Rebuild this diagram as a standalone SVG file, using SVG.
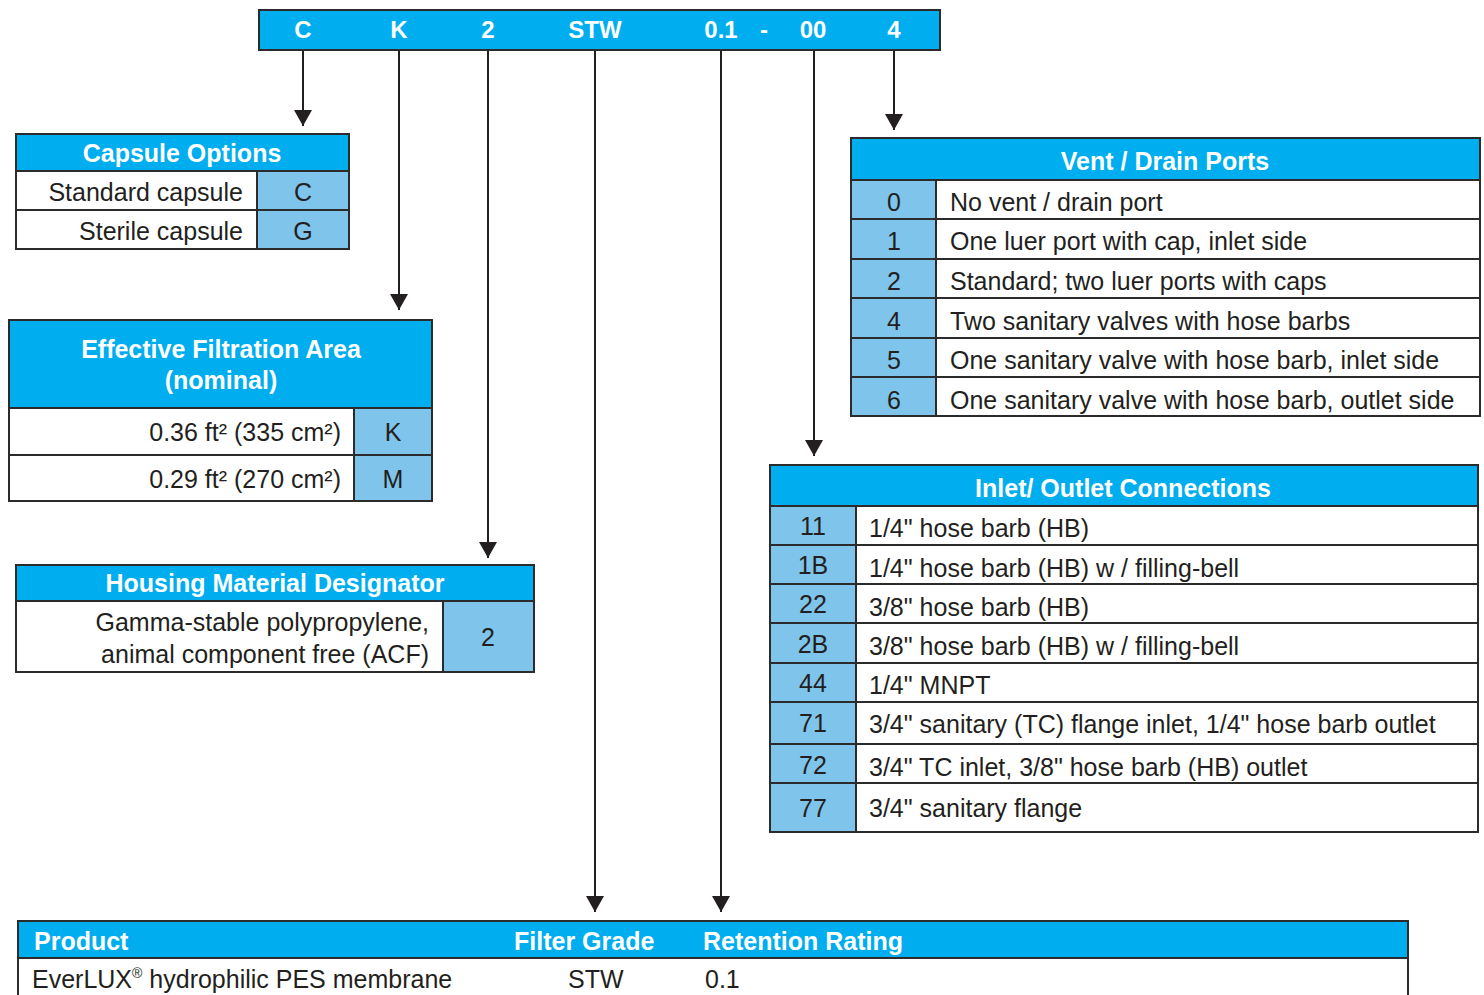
<svg xmlns="http://www.w3.org/2000/svg" width="1484" height="995" viewBox="0 0 1484 995">
<defs>
<style>
.hd{fill:#00AEEF}
.lt{fill:#7EC4EB}
.wh{fill:#ffffff}
.bd{fill:none;stroke:#2b2b2b;stroke-width:2}
.ln{stroke:#2b2b2b;stroke-width:2}
.ht{font-family:"Liberation Sans",Arial,sans-serif;font-weight:bold;font-size:25px;fill:#ffffff}
.bt{font-family:"Liberation Sans",Arial,sans-serif;font-size:25px;fill:#231f20}
.tb{font-family:"Liberation Sans",Arial,sans-serif;font-weight:bold;font-size:24px;fill:#ffffff;text-anchor:middle}
.c{text-anchor:middle}
.r{text-anchor:end}
.con{stroke:#231f20;stroke-width:2;fill:none;marker-end:url(#ah)}
</style>
<marker id="ah" markerUnits="userSpaceOnUse" markerWidth="16" markerHeight="18" refX="16" refY="9" orient="auto" viewBox="0 0 16 18">
<path d="M0,0 L16,9 L0,18 Z" fill="#231f20"/>
</marker>
</defs>
<rect x="0" y="0" width="1484" height="995" fill="#ffffff"/>

<g id="code-bar">
<rect x="259" y="10" width="681" height="40" class="hd"/>
<rect x="259" y="10" width="681" height="40" class="bd"/>
<text x="303" y="38" class="tb">C</text>
<text x="399" y="38" class="tb">K</text>
<text x="488" y="38" class="tb">2</text>
<text x="595" y="38" class="tb">STW</text>
<text x="721" y="38" class="tb">0.1</text>
<text x="764" y="38" class="tb">-</text>
<text x="813" y="38" class="tb">00</text>
<text x="894" y="38" class="tb">4</text>
</g>

<g id="connectors">
<line x1="303" y1="51" x2="303" y2="126" class="con"/>
<line x1="399" y1="51" x2="399" y2="310" class="con"/>
<line x1="488" y1="51" x2="488" y2="558" class="con"/>
<line x1="595" y1="51" x2="595" y2="912" class="con"/>
<line x1="721" y1="51" x2="721" y2="912" class="con"/>
<line x1="814" y1="51" x2="814" y2="456" class="con"/>
<line x1="894" y1="51" x2="894" y2="130" class="con"/>
</g>

<g id="capsule-options">
<rect x="16" y="134" width="333" height="37" class="hd"/>
<rect x="16" y="171" width="241" height="78" class="wh"/>
<rect x="257" y="171" width="92" height="78" class="lt"/>
<rect x="16" y="134" width="333" height="115" class="bd"/>
<line x1="16" y1="171" x2="349" y2="171" class="ln"/>
<line x1="16" y1="210" x2="349" y2="210" class="ln"/>
<line x1="257" y1="171" x2="257" y2="249" class="ln"/>
<text x="182" y="162" class="ht c">Capsule Options</text>
<text x="243" y="201" class="bt r">Standard capsule</text>
<text x="303" y="201" class="bt c">C</text>
<text x="243" y="240" class="bt r">Sterile capsule</text>
<text x="303" y="240" class="bt c">G</text>
</g>

<g id="filtration-area">
<rect x="9" y="320" width="423" height="88" class="hd"/>
<rect x="9" y="408" width="345" height="93" class="wh"/>
<rect x="354" y="408" width="78" height="93" class="lt"/>
<rect x="9" y="320" width="423" height="181" class="bd"/>
<line x1="9" y1="408" x2="432" y2="408" class="ln"/>
<line x1="9" y1="455" x2="432" y2="455" class="ln"/>
<line x1="354" y1="408" x2="354" y2="501" class="ln"/>
<text x="221" y="358" class="ht c">Effective Filtration Area</text>
<text x="221" y="389" class="ht c">(nominal)</text>
<text x="341" y="441" class="bt r">0.36 ft² (335 cm²)</text>
<text x="393" y="441" class="bt c">K</text>
<text x="341" y="488" class="bt r">0.29 ft² (270 cm²)</text>
<text x="393" y="488" class="bt c">M</text>
</g>

<g id="housing-material">
<rect x="16" y="565" width="518" height="36" class="hd"/>
<rect x="16" y="601" width="427" height="71" class="wh"/>
<rect x="443" y="601" width="91" height="71" class="lt"/>
<rect x="16" y="565" width="518" height="107" class="bd"/>
<line x1="16" y1="601" x2="534" y2="601" class="ln"/>
<line x1="443" y1="601" x2="443" y2="672" class="ln"/>
<text x="275" y="592" class="ht c">Housing Material Designator</text>
<text x="429" y="631" class="bt r">Gamma-stable polypropylene,</text>
<text x="429" y="663" class="bt r">animal component free (ACF)</text>
<text x="488" y="646" class="bt c">2</text>
</g>

<g id="vent-drain-ports">
<rect x="851" y="138" width="629" height="42" class="hd"/>
<rect x="851" y="180" width="85" height="236" class="lt"/>
<rect x="936" y="180" width="544" height="236" class="wh"/>
<rect x="851" y="138" width="629" height="278" class="bd"/>
<line x1="851" y1="180" x2="1480" y2="180" class="ln"/>
<line x1="851" y1="219" x2="1480" y2="219" class="ln"/>
<line x1="851" y1="259" x2="1480" y2="259" class="ln"/>
<line x1="851" y1="298" x2="1480" y2="298" class="ln"/>
<line x1="851" y1="338" x2="1480" y2="338" class="ln"/>
<line x1="851" y1="377" x2="1480" y2="377" class="ln"/>
<line x1="936" y1="180" x2="936" y2="416" class="ln"/>
<text x="1165" y="170" class="ht c">Vent / Drain Ports</text>
<text x="894" y="211" class="bt c">0</text>
<text x="950" y="211" class="bt">No vent / drain port</text>
<text x="894" y="250" class="bt c">1</text>
<text x="950" y="250" class="bt">One luer port with cap, inlet side</text>
<text x="894" y="290" class="bt c">2</text>
<text x="950" y="290" class="bt">Standard; two luer ports with caps</text>
<text x="894" y="330" class="bt c">4</text>
<text x="950" y="330" class="bt">Two sanitary valves with hose barbs</text>
<text x="894" y="369" class="bt c">5</text>
<text x="950" y="369" class="bt">One sanitary valve with hose barb, inlet side</text>
<text x="894" y="409" class="bt c">6</text>
<text x="950" y="409" class="bt">One sanitary valve with hose barb, outlet side</text>
</g>

<g id="inlet-outlet-connections">
<rect x="770" y="465" width="708" height="41" class="hd"/>
<rect x="770" y="506" width="86" height="326" class="lt"/>
<rect x="856" y="506" width="622" height="326" class="wh"/>
<rect x="770" y="465" width="708" height="367" class="bd"/>
<line x1="770" y1="506" x2="1478" y2="506" class="ln"/>
<line x1="770" y1="545" x2="1478" y2="545" class="ln"/>
<line x1="770" y1="584" x2="1478" y2="584" class="ln"/>
<line x1="770" y1="623" x2="1478" y2="623" class="ln"/>
<line x1="770" y1="663" x2="1478" y2="663" class="ln"/>
<line x1="770" y1="702" x2="1478" y2="702" class="ln"/>
<line x1="770" y1="744" x2="1478" y2="744" class="ln"/>
<line x1="770" y1="783" x2="1478" y2="783" class="ln"/>
<line x1="856" y1="506" x2="856" y2="832" class="ln"/>
<text x="1123" y="497" class="ht c">Inlet/ Outlet Connections</text>
<text x="813" y="535" class="bt c">11</text>
<text x="869" y="537" class="bt">1/4" hose barb (HB)</text>
<text x="813" y="574" class="bt c">1B</text>
<text x="869" y="577" class="bt">1/4" hose barb (HB) w / filling-bell</text>
<text x="813" y="613" class="bt c">22</text>
<text x="869" y="616" class="bt">3/8" hose barb (HB)</text>
<text x="813" y="653" class="bt c">2B</text>
<text x="869" y="655" class="bt">3/8" hose barb (HB) w / filling-bell</text>
<text x="813" y="692" class="bt c">44</text>
<text x="869" y="694" class="bt">1/4" MNPT</text>
<text x="813" y="732" class="bt c">71</text>
<text x="869" y="733" class="bt">3/4" sanitary (TC) flange inlet, 1/4" hose barb outlet</text>
<text x="813" y="774" class="bt c">72</text>
<text x="869" y="776" class="bt">3/4" TC inlet, 3/8" hose barb (HB) outlet</text>
<text x="813" y="817" class="bt c">77</text>
<text x="869" y="817" class="bt">3/4" sanitary flange</text>
</g>

<g id="product-table">
<rect x="18" y="921" width="1390" height="37" class="hd"/>
<rect x="18" y="921" width="1390" height="90" class="bd"/>
<line x1="18" y1="958" x2="1408" y2="958" class="ln"/>
<text x="34" y="950" class="ht">Product</text>
<text x="514" y="950" class="ht">Filter Grade</text>
<text x="703" y="950" class="ht">Retention Rating</text>
<text x="32" y="988" class="bt">EverLUX<tspan font-size="14" dy="-10">®</tspan><tspan dy="10"> hydrophilic PES membrane</tspan></text>
<text x="568" y="988" class="bt">STW</text>
<text x="705" y="988" class="bt">0.1</text>
</g>
</svg>
